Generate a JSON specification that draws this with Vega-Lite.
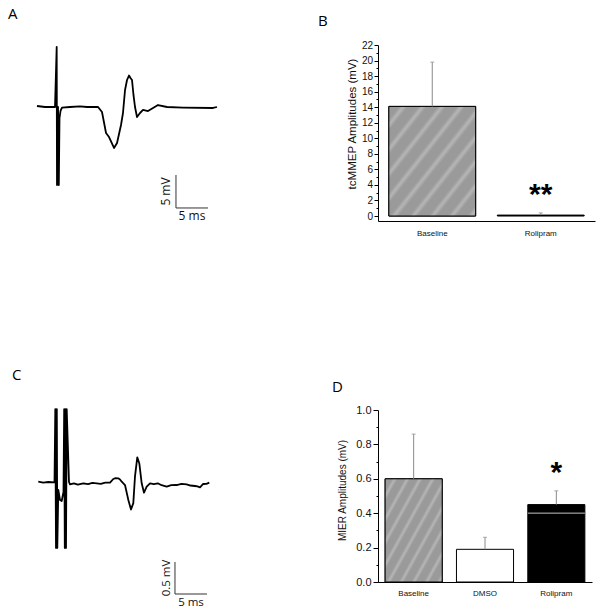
{
  "$schema": "https://vega.github.io/schema/vega-lite/v6.json",
  "background": "white",
  "padding": {"left": 8, "top": 7, "right": 2, "bottom": 2},
  "bounds": "flush",
  "align": "each",
  "columns": 2,
  "spacing": {"row": 189, "column": 48},
  "config": {
    "view": {"stroke": null},
    "title": {"font": "Open Sans", "fontSize": 15, "fontWeight": "normal", "color": "#000", "anchor": "start", "frame": "group", "offset": 0}
  },
  "datasets": {
    "traceA": [
      {"t": -3.13, "v": 0.15}, {"t": -1.88, "v": 0}, {"t": -0.31, "v": 0},
      {"t": -0.05, "v": 9.09}, {"t": 0, "v": -11.82}, {"t": 0.16, "v": 0}, {"t": 0.28, "v": -11.82},
      {"t": 0.39, "v": -1.67}, {"t": 0.55, "v": -0.6}, {"t": 0.78, "v": -0.08},
      {"t": 2.03, "v": 0}, {"t": 3.59, "v": 0.08}, {"t": 4.69, "v": 0}, {"t": 6.41, "v": 0},
      {"t": 7.03, "v": -0.76}, {"t": 7.66, "v": -3.94}, {"t": 8.13, "v": -4.55}, {"t": 8.91, "v": -6.21},
      {"t": 9.38, "v": -5.45}, {"t": 10.0, "v": -2.73}, {"t": 10.31, "v": -0.91}, {"t": 10.63, "v": 2.58},
      {"t": 10.94, "v": 4.09}, {"t": 11.25, "v": 4.77}, {"t": 11.48, "v": 4.39}, {"t": 11.72, "v": 4.09},
      {"t": 11.95, "v": 1.82}, {"t": 12.19, "v": 0}, {"t": 12.5, "v": -1.52}, {"t": 12.97, "v": -0.91},
      {"t": 13.44, "v": -0.45}, {"t": 14.22, "v": -0.61}, {"t": 15.0, "v": -0.15}, {"t": 15.78, "v": 0.3},
      {"t": 17.19, "v": 0}, {"t": 19.69, "v": -0.08}, {"t": 24.38, "v": -0.15}, {"t": 25.0, "v": 0}
    ],
    "traceC": [
      {"t": -2.77, "v": 0.005}, {"t": -2.0, "v": -0.01}, {"t": -1.2, "v": 0.0}, {"t": -0.234, "v": -0.005},
      {"t": -0.109, "v": 1.14}, {"t": 0, "v": -1.03}, {"t": 0.125, "v": 1.14}, {"t": 0.203, "v": -1.03},
      {"t": 0.359, "v": -0.125}, {"t": 0.625, "v": -0.281}, {"t": 0.89, "v": -0.297}, {"t": 1.17, "v": -0.156},
      {"t": 1.28, "v": 1.14}, {"t": 1.375, "v": -1.03}, {"t": 1.48, "v": 1.14}, {"t": 1.5625, "v": -1.03},
      {"t": 1.67, "v": 1.14}, {"t": 2.03, "v": 0}, {"t": 2.19, "v": -0.036},
      {"t": 2.8, "v": -0.02}, {"t": 3.4, "v": -0.04}, {"t": 4.27, "v": -0.02}, {"t": 5.0, "v": -0.035},
      {"t": 5.7, "v": -0.015}, {"t": 6.36, "v": -0.02}, {"t": 7.0, "v": -0.03}, {"t": 7.7, "v": -0.01},
      {"t": 8.44, "v": -0.01}, {"t": 8.95, "v": 0.047}, {"t": 9.3, "v": 0.06}, {"t": 9.73, "v": 0.058},
      {"t": 10.0, "v": 0.04}, {"t": 10.27, "v": 0.005}, {"t": 10.78, "v": -0.047}, {"t": 11.3, "v": -0.28},
      {"t": 11.72, "v": -0.43}, {"t": 12.08, "v": -0.33}, {"t": 12.34, "v": 0.083}, {"t": 12.7, "v": 0.386},
      {"t": 13.02, "v": 0.29}, {"t": 13.39, "v": -0.02}, {"t": 13.75, "v": -0.167}, {"t": 14.17, "v": -0.073},
      {"t": 14.69, "v": -0.02}, {"t": 15.3, "v": -0.035}, {"t": 15.9, "v": -0.02}, {"t": 16.5, "v": -0.05},
      {"t": 17.3, "v": -0.073}, {"t": 18.0, "v": -0.05}, {"t": 18.86, "v": -0.047}, {"t": 19.6, "v": -0.03},
      {"t": 20.42, "v": -0.036}, {"t": 21.0, "v": -0.055}, {"t": 21.72, "v": -0.0625}, {"t": 22.1, "v": -0.07},
      {"t": 22.5, "v": -0.083}, {"t": 23.0, "v": -0.031}, {"t": 23.5, "v": -0.03}, {"t": 23.95, "v": -0.01}
    ],
    "scaleA": [{"t0": 18.59, "t1": 23.59, "v0": -10.3, "v1": -15.3, "tm": 21.09, "vm": -12.8, "xlabel": "5 ms", "ylabel": "5 mV"}],
    "scaleC": [{"t0": 18.59, "t1": 23.59, "v0": -1.25, "v1": -1.75, "tm": 21.09, "vm": -1.5, "xlabel": "5 ms", "ylabel": "0.5 mV"}],
    "barsB": [
      {"group": "Baseline", "mean": 14.1, "upper": 19.8, "sig": ""},
      {"group": "Rolipram", "mean": 0.12, "upper": 0.4, "sig": "**"}
    ],
    "barsD": [
      {"group": "Baseline", "mean": 0.6, "upper": 0.86, "sig": ""},
      {"group": "DMSO", "mean": 0.19, "upper": 0.26, "sig": ""},
      {"group": "Rolipram", "mean": 0.45, "upper": 0.53, "sig": "*", "inner": 0.4}
    ]
  },
  "concat": [
    {
      "width": 300, "height": 176,
      "title": {"text": "A", "dx": -22, "dy": -18.7, "fontSize": 15},
      "layer": [
        {"data": {"name": "traceA"}, "mark": {"type": "line", "color": "#000", "strokeWidth": 1.8, "strokeJoin": "round"},
         "encoding": {
           "x": {"field": "t", "type": "quantitative", "scale": {"domain": [-4.219, 42.656], "nice": false, "zero": false}, "axis": null},
           "y": {"field": "v", "type": "quantitative", "scale": {"domain": [-17.273, 9.394], "nice": false, "zero": false}, "axis": null}}},
        {"data": {"name": "scaleA"}, "mark": {"type": "rule", "color": "#333", "strokeWidth": 1},
         "encoding": {
           "x": {"field": "t0", "type": "quantitative", "scale": {"domain": [-4.219, 42.656], "nice": false, "zero": false}, "axis": null},
           "y": {"field": "v0", "type": "quantitative", "scale": {"domain": [-17.273, 9.394], "nice": false, "zero": false}, "axis": null},
           "y2": {"field": "v1"}}},
        {"data": {"name": "scaleA"}, "mark": {"type": "rule", "color": "#333", "strokeWidth": 1},
         "encoding": {
           "x": {"field": "t0", "type": "quantitative", "scale": {"domain": [-4.219, 42.656], "nice": false, "zero": false}, "axis": null},
           "x2": {"field": "t1"},
           "y": {"field": "v1", "type": "quantitative", "scale": {"domain": [-17.273, 9.394], "nice": false, "zero": false}, "axis": null}}},
        {"data": {"name": "scaleA"}, "mark": {"type": "text", "font": "Open Sans", "fontSize": 12, "align": "center", "baseline": "top", "dy": 3, "color": "#111"},
         "encoding": {
           "x": {"field": "tm", "type": "quantitative", "scale": {"domain": [-4.219, 42.656], "nice": false, "zero": false}, "axis": null},
           "y": {"field": "v1", "type": "quantitative", "scale": {"domain": [-17.273, 9.394], "nice": false, "zero": false}, "axis": null},
           "text": {"field": "xlabel"}}},
        {"data": {"name": "scaleA"}, "mark": {"type": "text", "font": "Open Sans", "fontSize": 12, "align": "center", "baseline": "bottom", "angle": 270, "dy": -3, "color": "#111"},
         "encoding": {
           "x": {"field": "t0", "type": "quantitative", "scale": {"domain": [-4.219, 42.656], "nice": false, "zero": false}, "axis": null},
           "y": {"field": "vm", "type": "quantitative", "scale": {"domain": [-17.273, 9.394], "nice": false, "zero": false}, "axis": null},
           "text": {"field": "ylabel"}}}
      ]
    },
    {
      "width": 217, "height": 176,
      "title": {"text": "B", "dx": -60, "dy": -6.7, "fontSize": 15},
      "data": {"name": "barsB"},
      "resolve": {"axis": {"y": "independent"}},
      "encoding": {
        "x": {"field": "group", "type": "nominal", "sort": null, "scale": {"paddingInner": 0.2, "paddingOuter": 0.1},
              "axis": {"title": null, "labelAngle": 0, "ticks": false, "tickSize": 0, "labelFont": "Liberation Sans", "labelFontSize": 8, "labelPadding": 8, "labelColor": "#111", "domainColor": "#000"}}
      },
      "layer": [
        {"mark": {"type": "bar", "stroke": "#000", "strokeWidth": 1},
         "encoding": {
           "y": {"field": "mean", "type": "quantitative", "scale": {"domain": [-0.64, 22], "nice": false, "zero": false},
                 "axis": {"orient": "left", "values": [0,1,2,3,4,5,6,7,8,9,10,11,12,13,14,15,16,17,18,19,20,21,22],
                          "labelExpr": "datum.value % 2 === 0 ? datum.label : ''",
                          "tickDash": {"condition": {"test": "datum.value % 2 !== 0", "value": [2, 6]}, "value": [6, 0]},
                          "tickSize": 4, "tickColor": "#000", "domainColor": "#000", "grid": false,
                          "labelFont": "Liberation Sans", "labelFontSize": 10, "labelPadding": 1.5, "labelColor": "#111", "labelOverlap": false, "labelFlush": false,
                          "title": "tcMMEP Amplitudes (mV)", "titleFont": "Liberation Sans", "titleFontSize": 11.5, "titleFontWeight": "normal", "titleColor": "#111", "titlePadding": 4, "titleY": 78.5}},
           "y2": {"value": "height"},
           "fill": {"field": "group", "type": "nominal", "scale": {"domain": ["Baseline", "DMSO", "Rolipram"], "range": ["#a3a3a3", "#ffffff", "#000000"]}, "legend": null}}},
        {"transform": [{"filter": "datum.group === 'Baseline'"}],
         "mark": {"type": "bar", "stroke": "#000", "strokeWidth": 1,
                  "fill": {"gradient": "linear", "x1": 0, "y1": 0, "x2": 1, "y2": 1, "stops": [
                    {"offset": 0, "color": "#9a9a9a"}, {"offset": 0.06, "color": "#9a9a9a"}, {"offset": 0.085, "color": "#b6b6b6"},
                    {"offset": 0.111, "color": "#9a9a9a"}, {"offset": 0.171, "color": "#9a9a9a"}, {"offset": 0.196, "color": "#b6b6b6"},
                    {"offset": 0.222, "color": "#9a9a9a"}, {"offset": 0.282, "color": "#9a9a9a"}, {"offset": 0.307, "color": "#b6b6b6"},
                    {"offset": 0.333, "color": "#9a9a9a"}, {"offset": 0.393, "color": "#9a9a9a"}, {"offset": 0.418, "color": "#b6b6b6"},
                    {"offset": 0.444, "color": "#9a9a9a"}, {"offset": 0.504, "color": "#9a9a9a"}, {"offset": 0.529, "color": "#b6b6b6"},
                    {"offset": 0.556, "color": "#9a9a9a"}, {"offset": 0.616, "color": "#9a9a9a"}, {"offset": 0.641, "color": "#b6b6b6"},
                    {"offset": 0.667, "color": "#9a9a9a"}, {"offset": 0.727, "color": "#9a9a9a"}, {"offset": 0.752, "color": "#b6b6b6"},
                    {"offset": 0.778, "color": "#9a9a9a"}, {"offset": 0.838, "color": "#9a9a9a"}, {"offset": 0.863, "color": "#b6b6b6"},
                    {"offset": 0.889, "color": "#9a9a9a"}, {"offset": 0.949, "color": "#9a9a9a"}, {"offset": 0.974, "color": "#b6b6b6"},
                    {"offset": 1, "color": "#9a9a9a"}]}},
         "encoding": {
           "y": {"field": "mean", "type": "quantitative", "scale": {"domain": [-0.64, 22], "nice": false, "zero": false}, "axis": null},
           "y2": {"value": "height"}}},
        {"mark": {"type": "rule", "color": "#8a8a8a", "strokeWidth": 1},
         "encoding": {
           "y": {"field": "mean", "type": "quantitative", "scale": {"domain": [-0.64, 22], "nice": false, "zero": false}, "axis": null},
           "y2": {"field": "upper"}}},
        {"mark": {"type": "tick", "color": "#8a8a8a", "thickness": 1, "size": 4},
         "encoding": {
           "y": {"field": "upper", "type": "quantitative", "scale": {"domain": [-0.64, 22], "nice": false, "zero": false}, "axis": null}}},
        {"transform": [{"filter": "datum.sig !== ''"}],
         "mark": {"type": "text", "font": "Liberation Sans", "fontSize": 30, "fontWeight": "bold", "align": "center", "baseline": "alphabetic", "dy": -9, "color": "#000"},
         "encoding": {
           "y": {"field": "upper", "type": "quantitative", "scale": {"domain": [-0.64, 22], "nice": false, "zero": false}, "axis": null},
           "text": {"field": "sig"}}}
      ]
    },
    {
      "width": 300, "height": 172,
      "title": {"text": "C", "dx": -18, "dy": -20.7, "fontSize": 15},
      "layer": [
        {"data": {"name": "traceC"}, "mark": {"type": "line", "color": "#000", "strokeWidth": 1.8, "strokeJoin": "round"},
         "encoding": {
           "x": {"field": "t", "type": "quantitative", "scale": {"domain": [-4.0625, 42.8125], "nice": false, "zero": false}, "axis": null},
           "y": {"field": "v", "type": "quantitative", "scale": {"domain": [-1.5625, 1.125], "nice": false, "zero": false}, "axis": null}}},
        {"data": {"name": "scaleC"}, "mark": {"type": "rule", "color": "#333", "strokeWidth": 1},
         "encoding": {
           "x": {"field": "t0", "type": "quantitative", "scale": {"domain": [-4.0625, 42.8125], "nice": false, "zero": false}, "axis": null},
           "y": {"field": "v0", "type": "quantitative", "scale": {"domain": [-1.5625, 1.125], "nice": false, "zero": false}, "axis": null},
           "y2": {"field": "v1"}}},
        {"data": {"name": "scaleC"}, "mark": {"type": "rule", "color": "#333", "strokeWidth": 1},
         "encoding": {
           "x": {"field": "t0", "type": "quantitative", "scale": {"domain": [-4.0625, 42.8125], "nice": false, "zero": false}, "axis": null},
           "x2": {"field": "t1"},
           "y": {"field": "v1", "type": "quantitative", "scale": {"domain": [-1.5625, 1.125], "nice": false, "zero": false}, "axis": null}}},
        {"data": {"name": "scaleC"}, "mark": {"type": "text", "font": "Open Sans", "fontSize": 11.5, "align": "center", "baseline": "top", "dy": 3, "color": "#111"},
         "encoding": {
           "x": {"field": "tm", "type": "quantitative", "scale": {"domain": [-4.0625, 42.8125], "nice": false, "zero": false}, "axis": null},
           "y": {"field": "v1", "type": "quantitative", "scale": {"domain": [-1.5625, 1.125], "nice": false, "zero": false}, "axis": null},
           "text": {"field": "xlabel"}}},
        {"data": {"name": "scaleC"}, "mark": {"type": "text", "font": "Open Sans", "fontSize": 11.5, "align": "center", "baseline": "bottom", "angle": 270, "dy": -3, "color": "#111"},
         "encoding": {
           "x": {"field": "t0", "type": "quantitative", "scale": {"domain": [-4.0625, 42.8125], "nice": false, "zero": false}, "axis": null},
           "y": {"field": "vm", "type": "quantitative", "scale": {"domain": [-1.5625, 1.125], "nice": false, "zero": false}, "axis": null},
           "text": {"field": "ylabel"}}}
      ]
    },
    {
      "width": 214, "height": 172,
      "title": {"text": "D", "dx": -46, "dy": -5.2, "fontSize": 15},
      "data": {"name": "barsD"},
      "resolve": {"axis": {"y": "independent"}},
      "encoding": {
        "x": {"field": "group", "type": "nominal", "sort": null, "scale": {"paddingInner": 0.2, "paddingOuter": 0.1},
              "axis": {"title": null, "labelAngle": 0, "ticks": false, "tickSize": 0, "labelFont": "Liberation Sans", "labelFontSize": 8, "labelPadding": 7, "labelColor": "#111", "domainColor": "#000"}}
      },
      "layer": [
        {"mark": {"type": "bar", "stroke": "#000", "strokeWidth": 1},
         "encoding": {
           "y": {"field": "mean", "type": "quantitative", "scale": {"domain": [0, 1], "nice": false, "zero": false},
                 "axis": {"orient": "left", "values": [0, 0.1, 0.2, 0.3, 0.4, 0.5, 0.6, 0.7, 0.8, 0.9, 1.0], "format": ".1f",
                          "labelExpr": "round(datum.value * 10) % 2 === 0 ? datum.label : ''",
                          "tickDash": {"condition": {"test": "round(datum.value * 10) % 2 !== 0", "value": [2, 6]}, "value": [6, 0]},
                          "tickSize": 5, "tickColor": "#000", "domainColor": "#000", "grid": false,
                          "labelFont": "Liberation Sans", "labelFontSize": 11, "labelPadding": 2, "labelColor": "#111", "labelOverlap": false, "labelFlush": false,
                          "title": "MIER Amplitudes (mV)", "titleFont": "Liberation Sans", "titleFontSize": 10, "titleFontWeight": "normal", "titleColor": "#111", "titlePadding": 8, "titleY": 80}},
           "y2": {"value": "height"},
           "fill": {"field": "group", "type": "nominal", "scale": {"domain": ["Baseline", "DMSO", "Rolipram"], "range": ["#a3a3a3", "#ffffff", "#000000"]}, "legend": null}}},
        {"transform": [{"filter": "datum.group === 'Baseline'"}],
         "mark": {"type": "bar", "stroke": "#000", "strokeWidth": 1,
                  "fill": {"gradient": "linear", "x1": 0, "y1": 0, "x2": 1, "y2": 1, "stops": [
                    {"offset": 0, "color": "#9a9a9a"}, {"offset": 0.06, "color": "#9a9a9a"}, {"offset": 0.085, "color": "#b6b6b6"},
                    {"offset": 0.111, "color": "#9a9a9a"}, {"offset": 0.171, "color": "#9a9a9a"}, {"offset": 0.196, "color": "#b6b6b6"},
                    {"offset": 0.222, "color": "#9a9a9a"}, {"offset": 0.282, "color": "#9a9a9a"}, {"offset": 0.307, "color": "#b6b6b6"},
                    {"offset": 0.333, "color": "#9a9a9a"}, {"offset": 0.393, "color": "#9a9a9a"}, {"offset": 0.418, "color": "#b6b6b6"},
                    {"offset": 0.444, "color": "#9a9a9a"}, {"offset": 0.504, "color": "#9a9a9a"}, {"offset": 0.529, "color": "#b6b6b6"},
                    {"offset": 0.556, "color": "#9a9a9a"}, {"offset": 0.616, "color": "#9a9a9a"}, {"offset": 0.641, "color": "#b6b6b6"},
                    {"offset": 0.667, "color": "#9a9a9a"}, {"offset": 0.727, "color": "#9a9a9a"}, {"offset": 0.752, "color": "#b6b6b6"},
                    {"offset": 0.778, "color": "#9a9a9a"}, {"offset": 0.838, "color": "#9a9a9a"}, {"offset": 0.863, "color": "#b6b6b6"},
                    {"offset": 0.889, "color": "#9a9a9a"}, {"offset": 0.949, "color": "#9a9a9a"}, {"offset": 0.974, "color": "#b6b6b6"},
                    {"offset": 1, "color": "#9a9a9a"}]}},
         "encoding": {
           "y": {"field": "mean", "type": "quantitative", "scale": {"domain": [0, 1], "nice": false, "zero": false}, "axis": null},
           "y2": {"value": "height"}}},
        {"transform": [{"filter": "isValid(datum.inner)"}],
         "mark": {"type": "bar", "fillOpacity": 0, "stroke": "#8a8a8a", "strokeWidth": 1},
         "encoding": {
           "y": {"field": "inner", "type": "quantitative", "scale": {"domain": [0, 1], "nice": false, "zero": false}, "axis": null},
           "y2": {"field": "inner"}}},
        {"mark": {"type": "rule", "color": "#8a8a8a", "strokeWidth": 1},
         "encoding": {
           "y": {"field": "mean", "type": "quantitative", "scale": {"domain": [0, 1], "nice": false, "zero": false}, "axis": null},
           "y2": {"field": "upper"}}},
        {"mark": {"type": "tick", "color": "#8a8a8a", "thickness": 1, "size": 4},
         "encoding": {
           "y": {"field": "upper", "type": "quantitative", "scale": {"domain": [0, 1], "nice": false, "zero": false}, "axis": null}}},
        {"transform": [{"filter": "datum.sig !== ''"}],
         "mark": {"type": "text", "font": "Liberation Sans", "fontSize": 30, "fontWeight": "bold", "align": "center", "baseline": "alphabetic", "dy": -9, "color": "#000"},
         "encoding": {
           "y": {"field": "upper", "type": "quantitative", "scale": {"domain": [0, 1], "nice": false, "zero": false}, "axis": null},
           "text": {"field": "sig"}}}
      ]
    }
  ]
}
